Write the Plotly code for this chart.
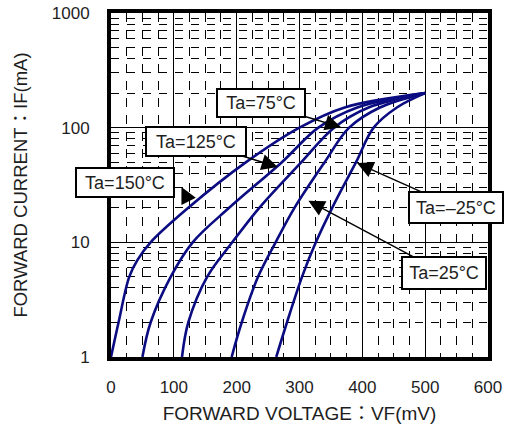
import math
import plotly.graph_objects as go

# ---------------- data ----------------
temps = ["Ta=150°C", "Ta=125°C", "Ta=75°C", "Ta=25°C", "Ta=–25°C"]

if_150 = [1, 2, 5, 7, 10, 20, 50, 100, 150, 200]
vf_150 = [0, 12, 29, 42, 63, 123, 215, 300, 372, 500]

if_std = [1, 2, 5, 10, 20, 50, 100, 150, 200]
vf_125 = [50, 63, 95, 130, 188, 272, 330, 392, 500]
vf_75 = [113, 123, 153, 193, 236, 303, 355, 410, 500]
vf_25 = [192, 208, 234, 262, 292, 340, 379, 428, 500]
vf_m25 = [263, 280, 304, 326, 352, 390, 418, 455, 500]

x_ticks = [0, 100, 200, 300, 400, 500, 600]
y_ticks = [1, 10, 100, 1000]
y_tick_text = ["1", "10", "100", "1000"]
y_minor = [m * d for d in (1, 10, 100) for m in range(2, 10)]

curves = [
    (vf_150, if_150),
    (vf_125, if_std),
    (vf_75, if_std),
    (vf_25, if_std),
    (vf_m25, if_std),
]

# label boxes: text, arrow tip (mV, mA)
label_text = ["Ta=75°C", "Ta=125°C", "Ta=–25°C", "Ta=25°C"]
label_tip_mv = [366.3, 265.3, 391.6, 314.2]
label_tip_ma = [100.8, 45.4, 49.1, 23.0]

LINE = "#0c0c82"
TXT = "#1e1e1e"
FONT = "Liberation Sans, Arial, Noto Sans CJK JP, sans-serif"

fig = go.Figure()
for (vx, iy), name in zip(curves, temps):
    fig.add_trace(go.Scatter(
        x=vx, y=iy, mode="lines", name=name,
        line=dict(color=LINE, width=2.6, shape="spline", smoothing=1.0),
        showlegend=False, hoverinfo="skip",
    ))

grid_common = dict(
    showline=True, linecolor="black", linewidth=4, mirror=True,
    ticks="", showgrid=True, gridcolor="black", gridwidth=1.1,
    zeroline=False, ticklabeloverflow="allow",
    tickfont=dict(family=FONT, size=17, color=TXT),
)

fig.update_xaxes(
    range=[0, 600], tickvals=x_ticks, ticklabelstandoff=12,
    minor=dict(dtick=25, tick0=0, showgrid=True, gridcolor="black",
               gridwidth=1, griddash="9px,8px", ticks=""),
    title=dict(text="FORWARD VOLTAGE：VF(mV)", standoff=11,
               font=dict(family=FONT, size=19, color=TXT)),
    automargin=False,
    **grid_common,
)
fig.update_yaxes(
    type="log", range=[0, 3], tickvals=y_ticks, ticktext=y_tick_text,
    ticklabelstandoff=14,
    minor=dict(tickvals=y_minor, showgrid=True, gridcolor="black",
               gridwidth=1, griddash="8px,8px", ticks=""),
    title=dict(text="FORWARD CURRENT：IF(mA)", standoff=20,
               font=dict(family=FONT, size=18.5, color=TXT)),
    automargin=False,
    **grid_common,
)

box = dict(bordercolor="black", borderwidth=2, bgcolor="white", borderpad=1,
           font=dict(family=FONT, size=18, color=TXT),
           arrowcolor="black", arrowhead=2, arrowsize=2.3, arrowwidth=1.4,
           xref="x", yref="y")

offsets = [(-80, -24, 84, 24), (-82, -25.5, 96, 25),
           (98.5, 44, 90, 27), (136, 72.5, 80, 28)]
for t, xm, ym, (ax, ay, w, h) in zip(label_text, label_tip_mv, label_tip_ma, offsets):
    d = dict(box)
    d.update(text=t, x=xm, y=math.log10(ym), ax=ax, ay=ay, showarrow=True,
             width=w, height=h)
    fig.add_annotation(**d)

# 150°C label (box) and its small arrow
d = dict(box)
d.update(text="Ta=150°C", x=22.1, y=math.log10(33.3), showarrow=False,
         width=94, height=25)
fig.add_annotation(**d)
fig.add_annotation(text="", x=112.1, y=math.log10(30.4), ax=7, ay=14,
                   showarrow=True, arrowcolor="black", arrowhead=2,
                   arrowsize=2.3, arrowwidth=1.4, xref="x", yref="y")

fig.update_layout(
    width=506, height=428,
    margin=dict(l=111, r=18, t=13, b=71),
    paper_bgcolor="white", plot_bgcolor="white",
    font=dict(family=FONT, color=TXT),
)

fig.write_html("out.html",
               config={"displayModeBar": False, "staticPlot": True},
               post_script="document.body.style.margin='0px';")
